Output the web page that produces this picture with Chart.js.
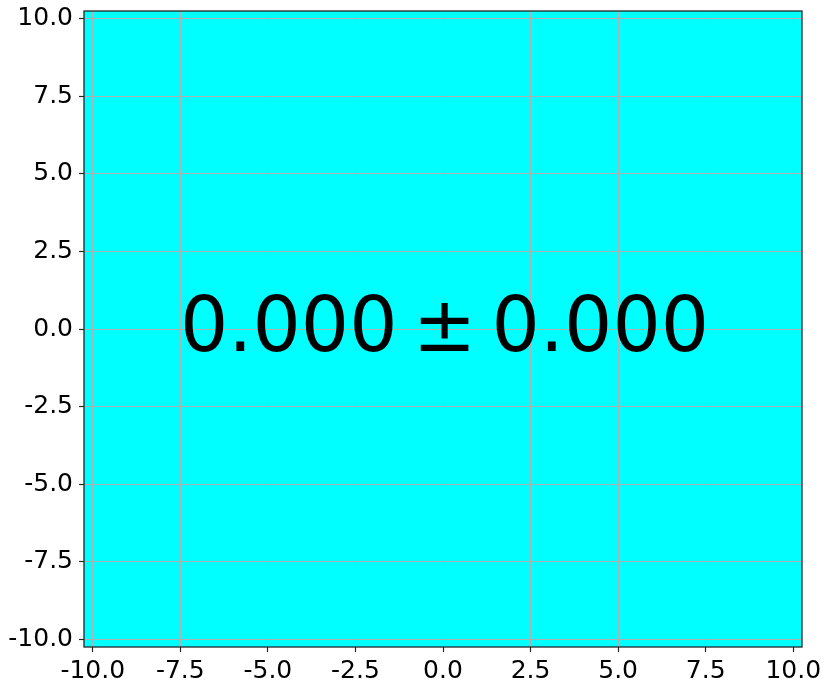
<!DOCTYPE html>
<html>
<head>
<meta charset="utf-8">
<script src="https://cdn.jsdelivr.net/npm/chart.js@4/dist/chart.umd.min.js"></script>
<style>
  body { margin: 0; background: #fff; }
  #wrap { width: 830px; height: 690px; }
</style>
</head>
<body>
<div id="wrap"><canvas id="grafico" width="830" height="690"></canvas></div>
<script>
const xTicks = [-10, -7.5, -5, -2.5, 0, 2.5, 5, 7.5, 10];
const yTicks = [-10, -7.5, -5, -2.5, 0, 2.5, 5, 7.5, 10];
const means = [0.0];
const stds = [0.0];

const fundo = {
    id: 'fundo',
    beforeDraw(chart) {
        const { ctx, chartArea: a } = chart;
        ctx.save();
        ctx.fillStyle = '#00ffff';
        ctx.fillRect(a.left, a.top, a.right - a.left, a.bottom - a.top);
        ctx.restore();
    },
    afterDraw(chart) {
        const { ctx, chartArea: a, scales } = chart;
        ctx.save();
        ctx.strokeStyle = '#262626';
        ctx.lineWidth = 1.3;
        ctx.strokeRect(a.left, a.top, a.right - a.left, a.bottom - a.top);

        // texto central
        const txt = means[0].toFixed(3) + '\u2009\u00b1\u2009' + stds[0].toFixed(3);
        ctx.fillStyle = '#000';
        ctx.font = '76px "DejaVu Sans"';
        ctx.textAlign = 'center';
        ctx.textBaseline = 'alphabetic';
        ctx.fillText(txt, scales.x.getPixelForValue(0) + 1.5, scales.y.getPixelForValue(0) + 22);
        ctx.restore();
    }
};

const fonte = { family: 'DejaVu Sans', size: 25 };
const grade = { color: '#b0b0b0', lineWidth: 1, tickColor: '#262626', tickLength: 5, tickWidth: 1.2 };

const config = {
    type: 'scatter',
    data: { datasets: [{ data: [] }] },
    options: {
        responsive: false,
        animation: false,
        layout: { padding: { top: 11, right: 28, left: 0, bottom: 0 } },
        plugins: { legend: { display: false }, tooltip: { enabled: false } },
        scales: {
            x: {
                type: 'linear', min: -10.25, max: 10.25,
                afterBuildTicks: s => { s.ticks = xTicks.map(v => ({ value: v })); },
                afterFit: s => { s.height = 43; s.paddingLeft = 0; s.paddingRight = 0; },
                ticks: { font: fonte, color: '#000', padding: 4, maxRotation: 0, autoSkip: false,
                         callback: v => v.toFixed(1) },
                grid: grade,
                border: { display: false }
            },
            y: {
                type: 'linear', min: -10.25, max: 10.25,
                afterBuildTicks: s => { s.ticks = yTicks.map(v => ({ value: v })); },
                afterFit: s => { s.width = 84; s.paddingTop = 0; s.paddingBottom = 0; },
                ticks: { font: fonte, color: '#000', padding: 6, autoSkip: false,
                         callback: v => v.toFixed(1) },
                grid: grade,
                border: { display: false }
            }
        }
    },
    plugins: [fundo]
};

const grafico = new Chart(document.getElementById('grafico'), config);
</script>
</body>
</html>
